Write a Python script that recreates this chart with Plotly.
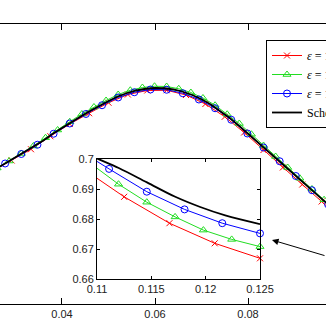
import plotly.graph_objects as go

# ---------------- data ----------------
# red series (x markers): x = k*0.125/30, k = 6..30
red_k = list(range(6, 31))
red_x = [k * 0.125 / 30 for k in red_k]
red_y = [0.7347, 0.7390, 0.7435, 0.7487, 0.7536, 0.7579, 0.7621, 0.7654, 0.7670,
         0.7671, 0.7652, 0.7616, 0.7565, 0.7502, 0.7432, 0.7362, 0.7294, 0.7226,
         0.7154, 0.7069, 0.6977, 0.6874, 0.6786, 0.6719, 0.6669]

# green series (triangles): x = k*0.125/48, k = 9..48
green_k = list(range(9, 49))
green_x = [k * 0.125 / 48 for k in green_k]
green_y = [0.7332, 0.7360, 0.7388, 0.7418, 0.7448, 0.7481, 0.7512, 0.7545, 0.7576,
           0.7604, 0.7630, 0.7654, 0.7671, 0.7682, 0.7687, 0.7686, 0.7677, 0.7662,
           0.7640, 0.7611, 0.7575, 0.7538, 0.7495, 0.7450, 0.7406, 0.7362, 0.7319,
           0.7276, 0.7233, 0.7188, 0.7140, 0.7089, 0.7038, 0.6986, 0.6916, 0.6856,
           0.6807, 0.6763, 0.6732, 0.6708]

# blue series (circles): x = k*0.125/36, k = 7..36
blue_k = list(range(7, 37))
blue_x = [k * 0.125 / 36 for k in blue_k]
blue_y = [0.7339, 0.7378, 0.7416, 0.7453, 0.7497, 0.7538, 0.7576, 0.7611, 0.7642,
          0.7663, 0.7674, 0.7673, 0.7659, 0.7634, 0.7599, 0.7553, 0.7498, 0.7442,
          0.7387, 0.7328, 0.7271, 0.7214, 0.7157, 0.7099, 0.7045, 0.6967, 0.6891,
          0.6832, 0.6786, 0.6752]

# black reference curve
black_x = [0.024, 0.026, 0.028, 0.030, 0.032, 0.034, 0.036, 0.038, 0.040, 0.042,
           0.044, 0.046, 0.048, 0.050, 0.052, 0.054, 0.056, 0.058, 0.060, 0.062,
           0.064, 0.066, 0.068, 0.070, 0.072, 0.074, 0.076, 0.078, 0.080, 0.082,
           0.084, 0.086, 0.088, 0.090, 0.092, 0.094, 0.096, 0.098, 0.100, 0.102,
           0.104, 0.106, 0.108, 0.110, 0.112, 0.1146, 0.1172, 0.1195, 0.1218, 0.125]
black_y = [0.7336, 0.7358, 0.7380, 0.7402, 0.7424, 0.7446, 0.7470, 0.7497, 0.7521, 0.7544,
           0.7566, 0.7588, 0.7609, 0.7628, 0.7646, 0.7660, 0.7670, 0.7677, 0.7680, 0.7679,
           0.7674, 0.7665, 0.7652, 0.7635, 0.7614, 0.7589, 0.7561, 0.7530, 0.7498, 0.7465,
           0.7432, 0.7399, 0.7366, 0.7334, 0.7301, 0.7268, 0.7235, 0.7203, 0.7170, 0.7136,
           0.7102, 0.7068, 0.7035, 0.7002, 0.6970, 0.6922, 0.6874, 0.6840, 0.6812, 0.6783]

names = ["<i>ε</i> = 1/30", "<i>ε</i> = 1/48", "<i>ε</i> = 1/36", "Scheme"]

main_xticks = [0.04, 0.06, 0.08]
main_xtext = ["0.04", "0.06", "0.08"]
inset_xticks = [0.11, 0.115, 0.12, 0.125]
inset_xtext = ["0.11", "0.115", "0.12", "0.125"]
inset_yticks = [0.66, 0.67, 0.68, 0.69, 0.70]
inset_ytext = ["0.66", "0.67", "0.68", "0.69", "0.7"]

# ---------------- styles ----------------
RED = "#ff0000"
GREEN = "#22dd22"
BLUE = "#0000ff"
series = [
    (red_x, red_y, RED, "x-thin-open", 6, names[0]),
    (green_x, green_y, GREEN, "triangle-up-open", 7, names[1]),
    (blue_x, blue_y, BLUE, "circle-open", 7, names[2]),
]

fig = go.Figure()

# main plot
for xs, ys, col, sym, sz, nm in series:
    fig.add_trace(go.Scatter(x=xs, y=ys, mode="lines+markers", name=nm,
                             line=dict(color=col, width=1),
                             marker=dict(symbol=sym, size=sz, color=col,
                                         line=dict(color=col, width=1)),
                             xaxis="x", yaxis="y"))
fig.add_trace(go.Scatter(x=black_x, y=black_y, mode="lines", name=names[3],
                         line=dict(color="black", width=1.8), xaxis="x", yaxis="y"))

# inset
for xs, ys, col, sym, sz, nm in series:
    fig.add_trace(go.Scatter(x=xs, y=ys, mode="lines", showlegend=False,
                             line=dict(color=col, width=1), xaxis="x2", yaxis="y2"))
    ix = [a for a in xs if 0.11 <= a <= 0.1251]
    iy = [b for a, b in zip(xs, ys) if 0.11 <= a <= 0.1251]
    fig.add_trace(go.Scatter(x=ix, y=iy, mode="markers", showlegend=False,
                             cliponaxis=False,
                             marker=dict(symbol=sym, size=sz, color=col,
                                         line=dict(color=col, width=1)),
                             xaxis="x2", yaxis="y2"))
fig.add_trace(go.Scatter(x=black_x, y=black_y, mode="lines", showlegend=False,
                         line=dict(color="black", width=1.8, shape="spline"),
                         xaxis="x2", yaxis="y2"))

tickfont = dict(family="Liberation Sans, Arial, sans-serif", size=11, color="#222")

fig.update_layout(
    width=326, height=326,
    margin=dict(l=0, r=0, t=0, b=0, autoexpand=False),
    paper_bgcolor="white", plot_bgcolor="white",
    xaxis=dict(domain=[0, 1], range=[0.02667, 0.09677], tickvals=main_xticks,
               ticktext=main_xtext, ticks="inside", ticklen=6, tickcolor="black",
               showline=True, linecolor="black", linewidth=1, mirror="ticks",
               showgrid=False, zeroline=False, tickfont=tickfont, automargin=False),
    yaxis=dict(domain=[0.0675, 0.9264], range=[0.6816, 0.7936], showline=False,
               showticklabels=False, ticks="", showgrid=False, zeroline=False,
               automargin=False),
    xaxis2=dict(domain=[97 / 326, 260 / 326], anchor="y2", range=[0.11, 0.125],
                tickvals=inset_xticks, ticktext=inset_xtext, ticks="inside",
                ticklen=3, tickcolor="black", showline=True, linecolor="black",
                linewidth=1, mirror="ticks", showgrid=False, zeroline=False,
                tickfont=tickfont, automargin=False),
    yaxis2=dict(domain=[1 - 279 / 326, 1 - 159 / 326], anchor="x2", range=[0.66, 0.70],
                tickvals=inset_yticks, ticktext=inset_ytext, ticks="inside",
                ticklen=3, tickcolor="black", showline=True, linecolor="black",
                linewidth=1, mirror="ticks", showgrid=False, zeroline=False,
                tickfont=tickfont, automargin=False),
    legend=dict(x=266 / 326, y=1 - 40 / 326, xanchor="left", yanchor="top",
                bgcolor="white", bordercolor="black", borderwidth=1,
                font=dict(family="Liberation Serif, DejaVu Serif, serif", size=12,
                          color="black"),
                tracegroupgap=0),
    showlegend=True,
)

fig.add_annotation(x=272 / 326, y=1 - 240 / 326, xref="paper", yref="paper",
                   ax=62, ay=16, text="", showarrow=True, arrowhead=2,
                   arrowsize=1.3, arrowwidth=1, arrowcolor="black")

fig.write_html("out.html")
